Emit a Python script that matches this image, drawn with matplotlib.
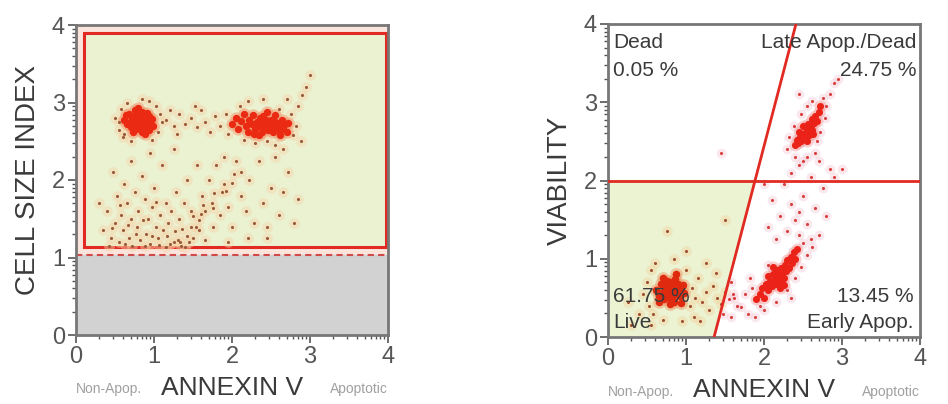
import numpy as np
import matplotlib
matplotlib.use("Agg")
import matplotlib.pyplot as plt
from matplotlib.patches import Rectangle, Polygon
from matplotlib.ticker import FixedLocator

plt.rcParams['font.family'] = ['Liberation Sans', 'DejaVu Sans']

# ---- data (decade units 0..4) ----
# left panel: cell size index vs annexin V
left_cluster_a = [(0.62,2.78),(0.66,2.72),(0.68,2.85),(0.70,2.68),(0.72,2.80),(0.74,2.74),(0.75,2.90),
    (0.77,2.66),(0.78,2.78),(0.79,2.71),(0.80,2.84),(0.81,2.76),(0.82,2.69),(0.83,2.80),(0.84,2.73),
    (0.85,2.88),(0.86,2.66),(0.87,2.77),(0.88,2.83),(0.89,2.71),(0.90,2.76),(0.92,2.68),(0.93,2.82),
    (0.95,2.74),(0.97,2.79),(0.73,2.62),(0.79,2.93),(0.88,2.60),(0.64,2.84),(0.99,2.70),(0.70,2.76),
    (0.76,2.83),(0.84,2.62),(0.91,2.87),(0.81,2.70),(0.77,2.74),(0.86,2.79),(0.72,2.70),(0.94,2.64),(0.80,2.80)]
left_cluster_b = [(2.00,2.72),(2.05,2.80),(2.08,2.66),(2.12,2.76),(2.15,2.85),(2.18,2.70),(2.20,2.62),
    (2.22,2.78),(2.25,2.72),(2.27,2.84),(2.30,2.66),(2.32,2.75),(2.34,2.70),(2.36,2.80),(2.38,2.62),
    (2.40,2.72),(2.42,2.68),(2.44,2.78),(2.46,2.65),(2.48,2.72),(2.50,2.70),(2.52,2.62),(2.54,2.76),
    (2.56,2.68),(2.58,2.73),(2.60,2.64),(2.62,2.70),(2.64,2.78),(2.66,2.66),(2.68,2.72),(2.70,2.62),
    (2.72,2.74),(2.35,2.58),(2.45,2.88),(2.55,2.84),(2.28,2.60),(2.62,2.58),(2.50,2.78),(2.40,2.82),(2.58,2.66)]
left_scatter = [(0.50,2.80),(0.55,2.65),(0.58,2.92),(0.60,2.55),(1.02,2.95),(1.05,2.62),(1.08,2.85),
    (0.66,3.00),(0.93,3.02),(0.70,2.50),(0.98,2.52),(0.55,2.75),(1.10,2.75),(0.85,3.05),(0.62,2.60),
    (1.15,2.78),(1.25,2.70),(1.32,2.85),(1.40,2.72),(1.48,2.80),(1.55,2.68),(1.60,2.90),(1.66,2.75),
    (1.72,2.62),(1.78,2.82),(1.84,2.70),(1.30,2.60),(1.52,2.95),(1.20,2.90),
    (1.92,2.85),(1.95,2.60),(2.10,2.95),(2.20,3.02),(2.30,2.48),(2.45,2.50),(2.60,2.92),(2.75,2.85),
    (2.78,2.58),(2.82,2.70),(2.85,2.95),(2.70,3.05),(2.40,3.05),(2.15,2.52),(2.55,2.45),(2.90,3.10),
    (2.95,3.20),(3.00,3.35),(2.88,2.50),(2.65,2.40),
    (1.20,1.18),(1.31,1.22),(1.36,1.37),(1.47,1.40),(1.50,1.53),(1.60,1.56),(1.63,1.68),(1.74,1.70),
    (1.77,1.83),(1.87,1.84),(1.90,1.95),(2.00,1.96),(2.03,2.08),(2.12,2.10),(1.42,1.28),(1.58,1.48),
    (1.76,1.64),(1.92,1.86),(1.54,1.40),(1.66,1.60),
    (0.35,1.35),(0.40,1.60),(0.45,1.25),(0.50,1.45),(0.52,1.80),(0.55,1.20),(0.58,1.55),(0.60,1.35),
    (0.62,1.95),(0.65,1.70),(0.68,1.25),(0.70,1.50),(0.72,1.15),(0.75,1.85),(0.78,1.40),(0.80,1.60),
    (0.82,1.22),(0.85,2.05),(0.88,1.75),(0.90,1.30),(0.92,1.50),(0.95,1.18),(0.98,1.65),(1.00,1.90),
    (1.02,1.40),(1.05,1.25),(1.08,1.55),(1.10,2.20),(1.12,1.35),(1.15,1.70),(1.18,1.45),(1.22,1.60),
    (1.25,1.20),(1.28,1.85),(1.32,1.50),(1.35,1.15),(1.38,1.70),(1.42,2.00),(1.45,1.20),(1.48,1.60),
    (1.50,1.25),(1.55,2.20),(1.58,1.35),(1.62,1.80),(1.65,1.22),(1.70,2.00),(1.75,1.40),(1.80,2.20),
    (1.85,1.55),(1.90,2.30),(1.95,1.65),(2.00,1.40),(2.05,2.25),(2.12,1.80),(2.18,1.60),(2.22,2.00),
    (2.28,1.45),(2.35,2.25),(2.40,1.70),(2.45,1.40),(2.50,1.90),(2.55,2.30),(2.60,1.55),(2.65,1.85),
    (2.72,2.10),(2.80,1.45),(2.85,1.75),(2.45,1.25),(2.20,1.25),(1.95,1.20),(0.48,2.10),(0.70,2.25),
    (0.95,2.35),(1.25,2.40),(0.30,1.70),(0.42,1.15),(0.88,1.15),(1.15,1.13),(1.40,1.13),
    (0.46,1.38),(0.63,1.18),(0.77,1.30),(0.97,1.28),(1.07,1.16),(1.27,1.34),(1.33,1.20),(0.57,1.68),
    (0.86,1.48),(1.17,1.28),(1.02,1.72),(0.67,1.42)]

# right panel: viability vs annexin V
right_live = [(0.62,0.60),(0.65,0.52),(0.68,0.68),(0.70,0.58),(0.72,0.48),(0.74,0.65),(0.75,0.72),
    (0.77,0.55),(0.78,0.62),(0.80,0.50),(0.81,0.68),(0.82,0.58),(0.84,0.64),(0.85,0.45),(0.86,0.74),
    (0.88,0.55),(0.89,0.62),(0.90,0.68),(0.92,0.52),(0.94,0.60),(0.96,0.66),(0.98,0.56),(0.70,0.75),
    (0.79,0.42),(0.87,0.80),(0.66,0.45),(0.93,0.43),(0.76,0.60),(0.83,0.52),(0.80,0.70)]
right_early = [(1.90,0.48),(1.95,0.55),(1.98,0.62),(2.00,0.50),(2.03,0.68),(2.05,0.60),(2.08,0.72),
    (2.10,0.65),(2.12,0.80),(2.14,0.74),(2.15,0.68),(2.17,0.85),(2.18,0.78),(2.20,0.72),(2.22,0.88),
    (2.23,0.80),(2.25,0.76),(2.27,0.92),(2.28,0.84),(2.30,0.98),(2.32,0.88),(2.34,1.02),(2.36,0.94),
    (2.38,1.08),(2.40,1.00),(2.42,1.12),(2.20,0.62),(2.12,0.90),(2.26,0.66),(2.05,0.78)]
right_late = [(2.40,2.45),(2.42,2.52),(2.44,2.48),(2.46,2.56),(2.48,2.50),(2.50,2.60),(2.52,2.55),
    (2.53,2.68),(2.55,2.62),(2.56,2.72),(2.58,2.66),(2.60,2.70),(2.61,2.78),(2.62,2.64),(2.64,2.74),
    (2.66,2.82),(2.68,2.76),(2.70,2.88),(2.72,2.95),(2.50,2.70),(2.58,2.58),(2.45,2.62),(2.63,2.60),(2.55,2.50)]
right_scatter = [(0.45,0.55),(0.50,0.70),(0.52,0.40),(0.55,0.85),(0.58,0.30),(0.60,0.95),(1.00,0.85),
    (1.05,0.40),(1.08,0.62),(1.12,0.50),(1.15,0.75),(1.20,0.45),(1.25,0.58),(1.30,0.35),(1.35,0.65),
    (1.40,0.50),(1.45,0.42),(1.50,0.58),(1.55,0.48),(1.60,0.55),(1.65,0.40),(1.48,0.30),(1.38,0.82),
    (1.10,0.25),(0.95,0.20),(0.70,0.22),(0.40,0.30),(0.30,0.15),(0.25,0.45),(0.85,1.00),(1.00,1.10),
    (0.75,1.35),(1.50,1.50),(1.45,2.35),(1.25,0.95),(0.55,0.15),(1.18,0.20),(1.58,0.70),
    (1.70,0.38),(1.75,0.55),(1.80,0.30),(1.85,0.62),(1.88,0.25),(1.95,0.40),(2.00,0.35),(2.05,0.92),
    (2.15,0.45),(2.30,0.60),(2.40,0.75),(2.48,0.90),(2.50,1.20),(2.45,1.30),(2.55,1.05),(2.35,0.50),
    (1.82,0.75),(1.62,0.50),(1.58,0.25),(2.60,1.25),
    (2.05,1.40),(2.10,1.75),(2.15,1.25),(2.20,1.55),(2.25,1.95),(2.30,1.35),(2.35,1.70),(2.40,1.50),
    (2.45,2.20),(2.50,1.80),(2.55,1.45),(2.60,2.05),(2.65,1.65),(2.70,1.30),(2.75,1.90),(2.80,1.55),
    (2.55,2.30),(2.35,2.10),(2.70,2.25),(2.85,2.15),(2.00,1.95),(2.45,1.60),(2.62,1.15),(2.90,2.05),
    (2.30,2.40),(2.32,2.55),(2.38,2.70),(2.40,2.30),(2.48,2.85),(2.55,2.95),(2.62,3.02),(2.75,3.05),
    (2.78,2.80),(2.80,2.95),(2.68,2.50),(2.72,2.62),(2.85,3.10),(2.90,3.25),(2.95,3.30),(2.50,2.25),
    (2.65,2.35),(3.00,2.15),(2.45,3.10)]

size_cutoff = 1.03
size_gate = (0.10, 1.13, 3.97, 3.90)   # x0, y0, x1, y1
viab_cut = 2.0
apop_line = [(1.36, 0.0), (2.41, 4.0)]
quad_labels = [("Dead", "0.05 %"), ("Late Apop./Dead", "24.75 %"),
               ("Live", "61.75 %"), ("Early Apop.", "13.45 %")]

TXT = '#3a3a3a'
RED = '#e02a22'

fig = plt.figure(figsize=(9.48, 4.04), dpi=100)
axL = fig.add_axes([76/948, 1-335/404, 312/948, 310/404])
axR = fig.add_axes([608/948, 1-337/404, 312/948, 313/404])

minor = [d + np.log10(k) for d in range(4) for k in range(2, 10)]

def style(ax, ylabel):
    ax.set_xlim(0, 4)
    ax.set_ylim(0, 4)
    ax.set_xticks([0, 1, 2, 3, 4])
    ax.set_yticks([0, 1, 2, 3, 4])
    ax.xaxis.set_minor_locator(FixedLocator(minor))
    ax.yaxis.set_minor_locator(FixedLocator(minor))
    ax.tick_params(which='major', length=6, width=1.2, color='#555555',
                   labelsize=17, labelcolor='#555555', direction='out', pad=2)
    ax.tick_params(which='minor', length=3, width=1, color='#555555', direction='out')
    for s in ax.spines.values():
        s.set_color('#777777')
        s.set_linewidth(2)
    ax.set_ylabel(ylabel, fontsize=20, color=TXT, labelpad=8)
    ax.set_xlabel('ANNEXIN V', fontsize=19, color=TXT, labelpad=6)
    ax.text(0.0, -0.175, 'Non-Apop.', transform=ax.transAxes, fontsize=10,
            color='#a0a0a0', ha='left', va='center')
    ax.text(1.0, -0.175, 'Apoptotic', transform=ax.transAxes, fontsize=10,
            color='#a0a0a0', ha='right', va='center')

def dots(ax, pts, color, halo, s=6, hs=26, z=3, ha=0.55):
    xy = np.array(pts)
    ax.scatter(xy[:, 0], xy[:, 1], s=hs, color=halo, alpha=ha, lw=0, zorder=z)
    ax.scatter(xy[:, 0], xy[:, 1], s=s, color=color, lw=0, zorder=z + 0.1)

# ---- left panel ----
axL.set_facecolor('#fbe4dc')
axL.add_patch(Rectangle((0, 0), 4, size_cutoff, color='#d2d2d2', zorder=0))
x0, y0, x1, y1 = size_gate
axL.add_patch(Rectangle((x0, y0), x1 - x0, y1 - y0, facecolor='#eaf2d2',
                        edgecolor=RED, lw=2.2, zorder=1))
axL.axhline(size_cutoff, color='#d04a4a', lw=1.5, ls=(0, (3, 2)), zorder=2)
dots(axL, left_scatter, '#9a5a3a', '#f6d4a8', s=5, hs=60, ha=0.45)
dots(axL, left_cluster_a, '#ea2a12', '#f39a70', s=28, hs=80)
dots(axL, left_cluster_b, '#ea2a12', '#f39a70', s=28, hs=80)
axL.spines['right'].set_color('#9a5050')
style(axL, 'CELL SIZE INDEX')

# ---- right panel ----
axR.set_facecolor('white')
(bx, by), (tx, ty) = apop_line
slope = (tx - bx) / (ty - by)
cx = bx + slope * viab_cut
axR.add_patch(Polygon([(0, 0), (bx, 0), (cx, viab_cut), (0, viab_cut)],
                      color='#ebf3d3', zorder=0))
axR.axhline(viab_cut, color=RED, lw=2, zorder=4)
axR.plot([bx, tx], [by, ty], color=RED, lw=2, zorder=4)

def in_live(p):
    return p[1] < viab_cut and p[0] < bx + slope * p[1]

live_sc = [p for p in right_scatter if in_live(p)]
other_sc = [p for p in right_scatter if not in_live(p)]
dots(axR, live_sc, '#a05030', '#f3d4a0', s=5, hs=60, ha=0.45)
dots(axR, other_sc, '#d84040', '#f4ccd8', s=5, hs=50, ha=0.45)
dots(axR, right_live, '#e02a10', '#f0a070', s=30, hs=85)
dots(axR, right_early, '#ea2218', '#f5a8a8', s=26, hs=75)
dots(axR, right_late, '#ea2218', '#f5a8a8', s=26, hs=75)

fs = 15
axR.text(0.07, 3.76, quad_labels[0][0], fontsize=fs, color=TXT, ha='left', va='center', zorder=6)
axR.text(0.07, 3.41, quad_labels[0][1], fontsize=fs, color=TXT, ha='left', va='center', zorder=6)
axR.text(3.95, 3.76, quad_labels[1][0], fontsize=fs, color=TXT, ha='right', va='center', zorder=6)
axR.text(3.95, 3.41, quad_labels[1][1], fontsize=fs, color=TXT, ha='right', va='center', zorder=6)
axR.text(0.07, 0.19, quad_labels[2][0], fontsize=fs, color=TXT, ha='left', va='center', zorder=6)
axR.text(0.07, 0.52, quad_labels[2][1], fontsize=fs, color=TXT, ha='left', va='center', zorder=6)
axR.text(3.92, 0.19, quad_labels[3][0], fontsize=fs, color=TXT, ha='right', va='center', zorder=6)
axR.text(3.92, 0.52, quad_labels[3][1], fontsize=fs, color=TXT, ha='right', va='center', zorder=6)
style(axR, 'VIABILITY')

fig.savefig('out.png', dpi=100)
